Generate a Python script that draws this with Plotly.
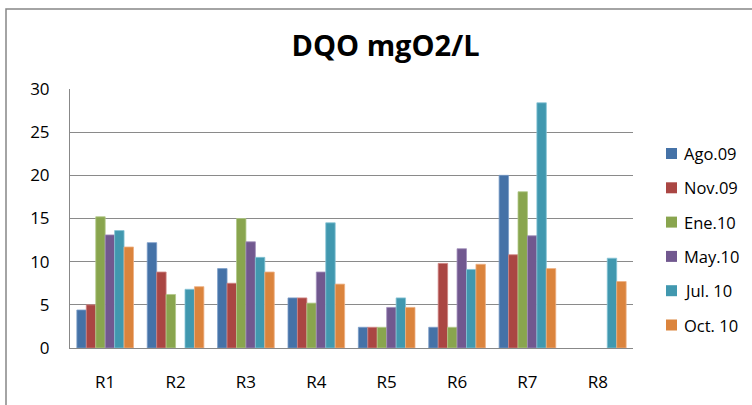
import plotly.graph_objects as go

sites = ["R1", "R2", "R3", "R4", "R5", "R6", "R7", "R8"]
ago_09 = [4.4, 12.2, 9.2, 5.8, 2.4, 2.4, 20.0, None]
nov_09 = [5.0, 8.8, 7.5, 5.8, 2.4, 9.8, 10.8, None]
ene_10 = [15.2, 6.2, 15.0, 5.2, 2.4, 2.4, 18.1, None]
may_10 = [13.1, None, 12.3, 8.8, 4.7, 11.5, 13.0, None]
jul_10 = [13.6, 6.8, 10.5, 14.5, 5.8, 9.1, 28.4, 10.4]
oct_10 = [11.7, 7.1, 8.8, 7.4, 4.7, 9.7, 9.2, 7.7]

series = [
    ("Ago.09", ago_09, "#4572A7", "#7A9CC8"),
    ("Nov.09", nov_09, "#AA4643", "#D08583"),
    ("Ene.10", ene_10, "#89A54E", "#B3C98A"),
    ("May.10", may_10, "#71588F", "#A28FBB"),
    ("Jul. 10", jul_10, "#4198AF", "#86C4D6"),
    ("Oct. 10", oct_10, "#DB843D", "#EDB083"),
]

FONT = "'Open Sans', Lato, sans-serif"

fig = go.Figure()
for name, vals, color, edge in series:
    fig.add_trace(go.Bar(
        x=sites, y=vals, name=name, showlegend=False,
        marker=dict(color=color, line=dict(color=edge, width=0.8)),
    ))

W, H = 752, 405
L, R, T, B = 70, 119, 89, 57
pw, ph = W - L - R, H - T - B

def px_x(x):
    return (x - L) / pw

def px_y(y):
    return (H - B - y) / ph

# frame around the whole chart
shapes = [dict(type="rect", xref="paper", yref="paper",
               x0=px_x(6), x1=px_x(770), y0=px_y(420), y1=px_y(9),
               line=dict(color="#868686", width=1.5), layer="below")]
annotations = []

# legend: colour key squares with labels on the right side
legend_top, legend_step = 153.5, 34.3
for i, (name, _, color, _) in enumerate(series):
    cy = legend_top + i * legend_step
    shapes.append(dict(type="rect", xref="paper", yref="paper",
                       x0=px_x(666), x1=px_x(677),
                       y0=px_y(cy + 5.5), y1=px_y(cy - 5.5),
                       fillcolor=color, line=dict(width=0)))
    annotations.append(dict(text=name, xref="paper", yref="paper",
                            x=px_x(682), y=px_y(cy), xanchor="left",
                            yanchor="middle", showarrow=False,
                            font=dict(size=16.5, family=FONT, color="#000000")))

fig.update_layout(
    width=W, height=H,
    margin=dict(l=L, r=R, t=T, b=B),
    paper_bgcolor="white", plot_bgcolor="white",
    barmode="group", bargap=0.195, bargroupgap=0,
    showlegend=False,
    font=dict(family=FONT, size=16, color="#000000"),
    title=dict(text="<b>DQO mgO2/L</b>", x=px_x(385.5), xref="paper",
               xanchor="center", y=1 - 46 / H, yanchor="middle",
               font=dict(size=29, family=FONT, color="#000000")),
    xaxis=dict(showgrid=False, showline=True, linecolor="#888888", linewidth=1,
               ticks="", tickfont=dict(size=17), ticklabelstandoff=19),
    yaxis=dict(range=[0, 30], dtick=5, showgrid=True, gridcolor="#8a8a8a",
               gridwidth=1, showline=True, linecolor="#888888", linewidth=1,
               zeroline=False, ticks="", tickfont=dict(size=17),
               ticklabelstandoff=16),
    shapes=shapes,
    annotations=annotations,
)

fig.write_html("out.html")
